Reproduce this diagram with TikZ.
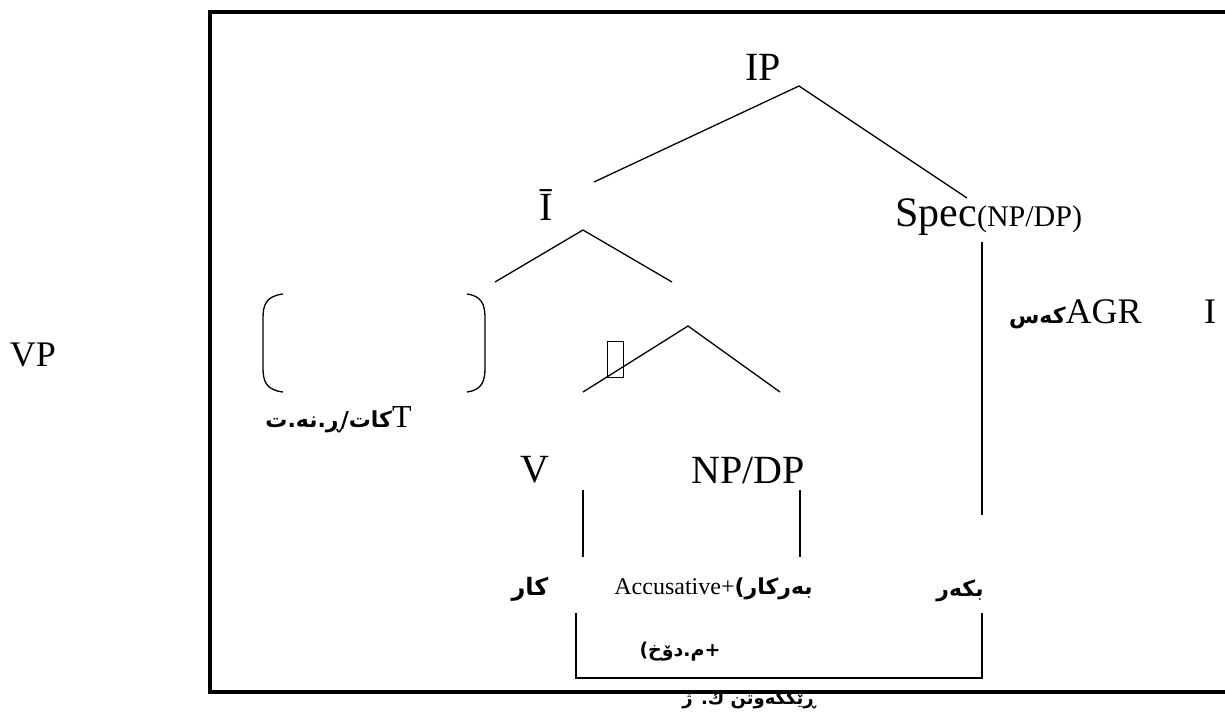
\documentclass[tikz,border=0pt]{standalone}
\usepackage{fontspec}
\setmainfont{Liberation Serif}
\newfontfamily\arabicfont[Script=Arabic]{DejaVu Sans}
\TeXXeTstate=1
\usetikzlibrary{positioning}

\newcommand{\kurd}{\arabicfont\bfseries}
\tikzset{
  % category labels of the tree
  cat/.style={font=\fontsize{20}{24}\selectfont, inner sep=0pt},
  % Kurdish glosses
  gloss/.style={font=\kurd\fontsize{11}{13}\selectfont, inner sep=0pt},
  % tree branch
  branch/.style={line width=0.65pt},
  % outer frame
  frame/.style={line width=2pt}
}

\begin{document}
\begin{tikzpicture}[x=0.5pt, y=-0.5pt]
  \clip (0,0) rectangle (1225,713);
  \fill[white] (0,0) rectangle (1225,713);

  % Outer frame (right side runs off the page)
  \draw[frame] (210,12) rectangle (1250,692);

  % Category labels
  \node[cat, anchor=base] (ip) at (763,80) {IP};
  \node[cat, anchor=base] (ibar) at (546,220) {Ī};
  \node[cat, font=\fontsize{21}{25}\selectfont, anchor=base west] (spec) at (895,226) {Spec{\fontsize{15}{18}\selectfont(NP/DP)}};
  \node[cat, anchor=base] (v) at (535,482) {V};
  \node[cat, anchor=base] (npdp) at (748,483) {NP/DP};
  \node[cat, font=\fontsize{18}{22}\selectfont, anchor=base] (vp) at (33,366) {VP};
  \node[cat, font=\fontsize{18}{22}\selectfont, anchor=base] (infl) at (1210,323) {I};
  \node[draw, line width=0.4pt, minimum width=8pt, minimum height=18pt, inner sep=0pt] (box) at (615,359) {};

  % Kurdish glosses
  \node[gloss, anchor=base east] (tense) at (412,427) {\beginR کات/ڕ.نه.ت\endR{\rmfamily\mdseries\fontsize{16}{19}\selectfont T}};
  \node[gloss, anchor=base east] (agr) at (1142,323) {\beginR کەس\endR{\rmfamily\mdseries\fontsize{18}{22}\selectfont AGR}};
  \node[gloss, font=\kurd\fontsize{12}{14}\selectfont, anchor=base] (verb) at (530,595) {\beginR کار\endR};
  \node[gloss, anchor=base east] (object) at (813,594) {{\rmfamily\mdseries\fontsize{12}{14}\selectfont Accusative+})\beginR بەرکار\endR};
  \node[gloss, font=\kurd\fontsize{9.5}{12}\selectfont, anchor=base] (case) at (680,656) {)\beginR م.دۆخ\endR+};
  \node[gloss, anchor=base] (subject) at (960,596) {\beginR بکەر\endR};
  \node[gloss, font=\kurd\fontsize{9}{11}\selectfont, anchor=base] (agree) at (749,704) {\beginR ڕێککەوتن ك. ژ\endR};

  % Branch points
  \coordinate (ipfork) at (799,86);
  \coordinate (ipleft) at (594,182);
  \coordinate (ipright) at (967,198);
  \coordinate (ibfork) at (583,230);
  \coordinate (ibleft) at (495,282);
  \coordinate (ibright) at (672,282);
  \coordinate (vpfork) at (688,326);
  \coordinate (vpleft) at (583,392);
  \coordinate (vpright) at (780,392);

  % Branches
  \draw[branch] (ipleft) -- (ipfork) -- (ipright);
  \draw[branch] (ibleft) -- (ibfork) -- (ibright);
  \draw[branch] (vpleft) -- (vpfork) -- (vpright);
  \draw[branch] (982,242) -- (982,515);
  \draw[branch] (583,490) -- (583,557);
  \draw[branch] (800,490) -- (800,557);
  \draw[branch] (576,613) -- (576,678) -- (982,678) -- (982,613);

  % Brackets round the tense slot
  \draw[branch] (283,294) .. controls (266,296) and (263,305) .. (263,318)
    -- (263,368) .. controls (263,381) and (266,390) .. (283,392);
  \draw[branch] (467,294) .. controls (482,296) and (485,305) .. (485,318)
    -- (485,368) .. controls (485,381) and (482,390) .. (467,392);
\end{tikzpicture}
\end{document}
